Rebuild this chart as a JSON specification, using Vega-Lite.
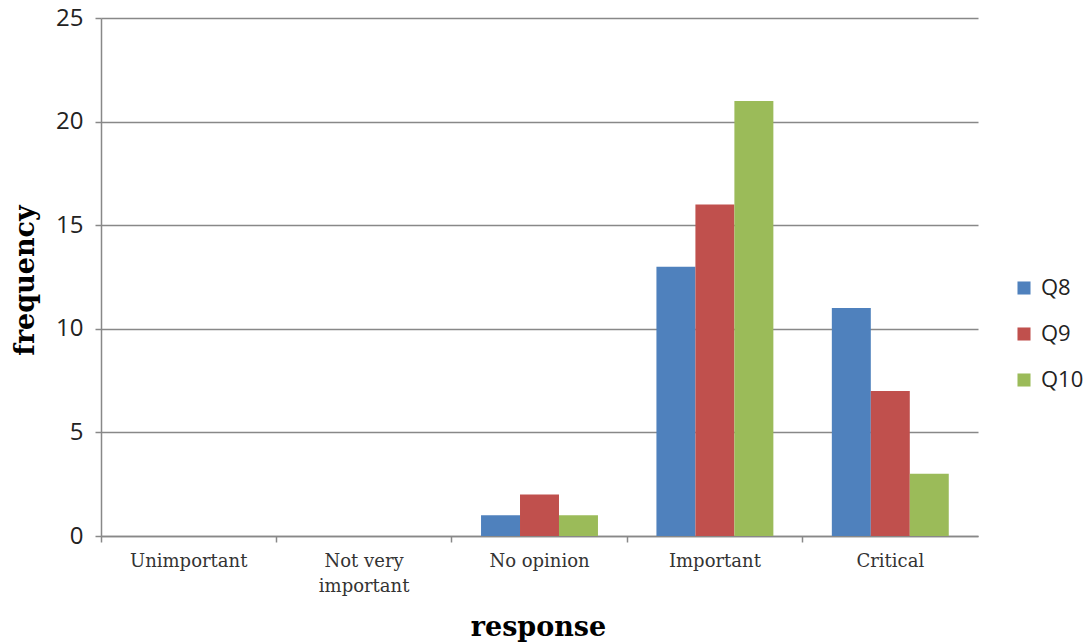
{
  "$schema": "https://vega.github.io/schema/vega-lite/v6.json",
  "width": 877,
  "height": 518,
  "autosize": "none",
  "padding": {"left": 101, "top": 18, "right": 113, "bottom": 108},
  "background": "white",
  "data": {
    "values": [
      {"response": "Unimportant", "question": "Q8", "frequency": 0},
      {"response": "Unimportant", "question": "Q9", "frequency": 0},
      {"response": "Unimportant", "question": "Q10", "frequency": 0},
      {"response": "Not very important", "question": "Q8", "frequency": 0},
      {"response": "Not very important", "question": "Q9", "frequency": 0},
      {"response": "Not very important", "question": "Q10", "frequency": 0},
      {"response": "No opinion", "question": "Q8", "frequency": 1},
      {"response": "No opinion", "question": "Q9", "frequency": 2},
      {"response": "No opinion", "question": "Q10", "frequency": 1},
      {"response": "Important", "question": "Q8", "frequency": 13},
      {"response": "Important", "question": "Q9", "frequency": 16},
      {"response": "Important", "question": "Q10", "frequency": 21},
      {"response": "Critical", "question": "Q8", "frequency": 11},
      {"response": "Critical", "question": "Q9", "frequency": 7},
      {"response": "Critical", "question": "Q10", "frequency": 3}
    ]
  },
  "mark": {"type": "bar"},
  "encoding": {
    "x": {
      "field": "response",
      "type": "nominal",
      "sort": ["Unimportant", "Not very important", "No opinion", "Important", "Critical"],
      "scale": {"paddingInner": 0, "paddingOuter": 0},
      "axis": {
        "title": "response",
        "titleFont": "DejaVu Serif",
        "titleFontWeight": "bold",
        "titleFontSize": 27,
        "titleColor": "#000000",
        "titleX": 437,
        "titleY": 91,
        "titleBaseline": "middle",
        "labelAngle": 0,
        "labelFont": "DejaVu Serif",
        "labelFontSize": 18,
        "labelColor": "#333333",
        "labelPadding": 10,
        "labelLineHeight": 25,
        "labelExpr": "datum.label == 'Not very important' ? ['Not very', 'important'] : datum.label",
        "bandPosition": 0,
        "tickSize": 6,
        "tickColor": "#888888",
        "tickWidth": 1.5,
        "domainColor": "#888888",
        "domainWidth": 1.5,
        "grid": false
      }
    },
    "xOffset": {
      "field": "question",
      "type": "nominal",
      "sort": ["Q8", "Q9", "Q10"],
      "scale": {"paddingInner": 0, "paddingOuter": 0.75}
    },
    "y": {
      "field": "frequency",
      "type": "quantitative",
      "scale": {"domain": [0, 25], "nice": false},
      "axis": {
        "title": "frequency",
        "titleFont": "DejaVu Serif",
        "titleFontWeight": "bold",
        "titleFontSize": 27,
        "titleColor": "#000000",
        "titleX": -76,
        "titleY": 262,
        "titleBaseline": "middle",
        "titleAlign": "center",
        "values": [0, 5, 10, 15, 20, 25],
        "labelFont": "Open Sans",
        "labelFontSize": 24,
        "labelColor": "#222222",
        "labelPadding": 12,
        "tickSize": 6,
        "tickColor": "#888888",
        "tickWidth": 1.5,
        "domainColor": "#888888",
        "domainWidth": 1.5,
        "grid": true,
        "gridColor": "#888888",
        "gridWidth": 1.5
      }
    },
    "color": {
      "field": "question",
      "type": "nominal",
      "sort": ["Q8", "Q9", "Q10"],
      "scale": {"domain": ["Q8", "Q9", "Q10"], "range": ["#4F81BD", "#C0504D", "#9BBB59"]},
      "legend": {
        "title": null,
        "orient": "none",
        "legendX": 912,
        "legendY": 259,
        "symbolType": "square",
        "symbolSize": 170,
        "symbolStrokeWidth": 0,
        "labelFont": "Open Sans",
        "labelFontSize": 22,
        "labelColor": "#222222",
        "labelOffset": 6,
        "rowPadding": 24
      }
    }
  },
  "config": {
    "view": {"stroke": null},
    "axis": {"labelFlush": false}
  }
}
